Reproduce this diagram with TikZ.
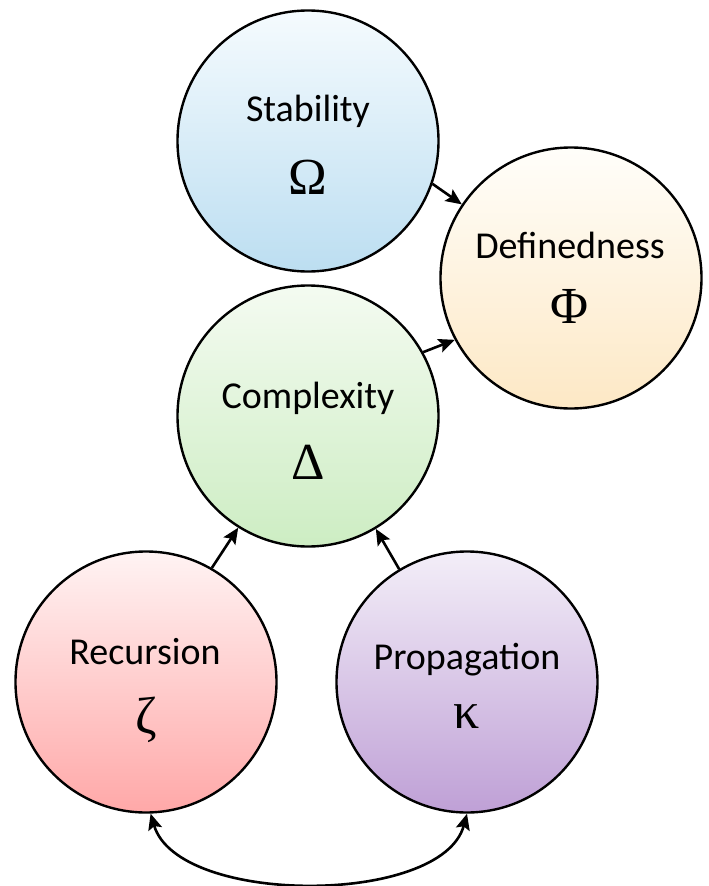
\documentclass[tikz,border=0pt]{standalone}
\usepackage{fontspec}
\setmainfont{Carlito}
\newfontfamily\greekfont{Liberation Serif}
\usetikzlibrary{arrows.meta}

\definecolor{stabTop}{HTML}{F5FBFE}
\definecolor{stabBot}{HTML}{BCDEF1}
\definecolor{defTop}{HTML}{FFFEFA}
\definecolor{defBot}{HTML}{FDE8C5}
\definecolor{cplxTop}{HTML}{F4FBF1}
\definecolor{cplxBot}{HTML}{CDEDC3}
\definecolor{recTop}{HTML}{FFF3F3}
\definecolor{recBot}{HTML}{FFA8A8}
\definecolor{propTop}{HTML}{F3EEF8}
\definecolor{propBot}{HTML}{BFA0D6}

\tikzset{
  bubble/.style={circle, draw=black, line width=2.4pt, minimum size=261pt, inner sep=0pt},
  caption/.style={font=\fontsize{38}{42}\selectfont, inner sep=0pt},
  glyph/.style={font=\fontsize{52}{56}\selectfont\greekfont, inner sep=0pt},
  link/.style={line width=2.6pt, -{Stealth[length=16pt,width=14pt,inset=3pt]}},
  twoway/.style={line width=2.6pt, {Stealth[length=16pt,width=14pt,inset=3pt]}-{Stealth[length=16pt,width=14pt,inset=3pt]}}
}

\begin{document}
\begin{tikzpicture}[x=1pt, y=-1pt]
  \useasboundingbox (0,0) rectangle (709,886);

  % the five concept circles
  \node[bubble, top color=stabTop, bottom color=stabBot] (stab) at (308,141) {};
  \node[bubble, top color=defTop, bottom color=defBot] (def) at (571,278) {};
  \node[bubble, top color=cplxTop, bottom color=cplxBot] (cplx) at (308,416) {};
  \node[bubble, top color=recTop, bottom color=recBot] (rec) at (146,682) {};
  \node[bubble, top color=propTop, bottom color=propBot] (prop) at (467,682) {};

  % names and symbols
  \node[caption] (stabName) at (308,111) {Stability};
  \node[glyph] (stabSym) at (308,177) {Ω};
  \node[caption] (defName) at (570,245) {Definedness};
  \node[glyph] (defSym) at (569,306) {Φ};
  \node[caption] (cplxName) at (308,398) {Complexity};
  \node[glyph] (cplxSym) at (308,462) {Δ};
  \node[caption] (recName) at (145,652) {Recursion};
  \node[glyph] (recSym) at (146,720) {ζ};
  \node[caption] (propName) at (467,660) {Propagation};
  \node[glyph] (propSym) at (467,717) {κ};

  % directed links
  \draw[link] (stab.-19) -- (def.146);
  \draw[link] (cplx.29) -- (def.208);
  \draw[link] (rec.60) -- (cplx.238);
  \draw[link] (prop.121) -- (cplx.-59);

  % two-way link along the bottom
  \draw[twoway] (rec.-88) .. controls (178,906) and (442,906) .. (prop.-90);
\end{tikzpicture}
\end{document}
